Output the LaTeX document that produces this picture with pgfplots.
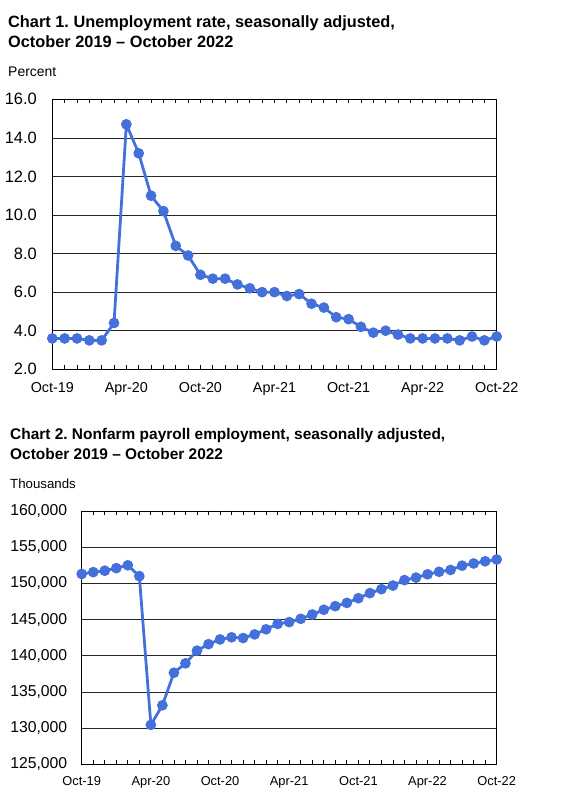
\documentclass[border=0pt]{standalone}
\usepackage{fontspec}
\setmainfont{Liberation Sans}
\usepackage{pgfplots}
\pgfplotsset{compat=1.18}
\usepackage{pgfplotstable}
\frenchspacing

\definecolor{blsblue}{RGB}{68,112,220}

% unemployment rate, Oct-19 .. Oct-22 (month index 0..36)
\pgfplotstableread{
m rate
0 3.6
1 3.6
2 3.6
3 3.5
4 3.5
5 4.4
6 14.7
7 13.2
8 11.0
9 10.2
10 8.4
11 7.9
12 6.9
13 6.7
14 6.7
15 6.4
16 6.2
17 6.0
18 6.0
19 5.8
20 5.9
21 5.4
22 5.2
23 4.7
24 4.6
25 4.2
26 3.9
27 4.0
28 3.8
29 3.6
30 3.6
31 3.6
32 3.6
33 3.5
34 3.7
35 3.5
36 3.7
}\unrate

% nonfarm payroll employment, thousands
\pgfplotstableread{
m emp
0 151300
1 151550
2 151750
3 152100
4 152500
5 151000
6 130450
7 133150
8 137650
9 138950
10 140700
11 141600
12 142250
13 142550
14 142450
15 142950
16 143650
17 144400
18 144650
19 145100
20 145700
21 146350
22 146850
23 147300
24 147950
25 148650
26 149200
27 149700
28 150450
29 150800
30 151250
31 151600
32 151850
33 152450
34 152750
35 153050
36 153300
}\payroll

\pgfplotsset{
  blsaxis/.style={
    scale only axis,
    anchor=south west,
    xmin=0, xmax=36,
    xtick={0,6,...,36},
    xticklabels={Oct-19,Apr-20,Oct-20,Apr-21,Oct-21,Apr-22,Oct-22},
    minor x tick num=5,
    major tick length=4bp,
    minor tick length=4bp,
    x tick style={black, line width=0.8pt},
    y tick style={draw=none},
    ymajorgrids,
    major grid style={black!85, line width=0.7pt},
    axis line style={black, line width=0.9pt},
    /pgf/number format/assume math mode=true,
    clip=false,
  },
  blsline/.style={
    blsblue, line width=2.8pt, mark=*, mark size=3.9pt,
    mark options={blsblue, solid},
  },
}

\begin{document}
\begin{tikzpicture}
\path[use as bounding box] (0bp,0bp) rectangle (569bp,810bp);

% ---- Chart 1 ----
\node[anchor=base west, inner sep=0pt, font=\bfseries\fontsize{16.4}{19}\selectfont]
  at (8bp,782.5bp) {Chart 1. Unemployment rate, seasonally adjusted,};
\node[anchor=base west, inner sep=0pt, font=\bfseries\fontsize{16.4}{19}\selectfont]
  at (8bp,762bp) {October 2019 -- October 2022};
\node[anchor=base west, inner sep=0pt, font=\fontsize{14}{16}\selectfont]
  at (8bp,733bp) {Percent};

\begin{axis}[blsaxis,
    at={(52.3bp,440.7bp)}, width=444.4bp, height=270bp,
    ymin=2, ymax=16, ytick={2,4,...,16},
    yticklabel style={font=\fontsize{16.5}{18}\selectfont, xshift=-12bp,
      /pgf/number format/.cd, fixed, fixed zerofill, precision=1},
    xticklabel style={font=\fontsize{14.4}{16}\selectfont, yshift=-10bp},
  ]
  \addplot[blsline] table[x=m, y=rate] {\unrate};
\end{axis}

% ---- Chart 2 ----
\node[anchor=base west, inner sep=0pt, font=\bfseries\fontsize{15.5}{18}\selectfont]
  at (10bp,370bp) {Chart 2. Nonfarm payroll employment, seasonally adjusted,};
\node[anchor=base west, inner sep=0pt, font=\bfseries\fontsize{15.5}{18}\selectfont]
  at (10bp,350.5bp) {October 2019 -- October 2022};
\node[anchor=base west, inner sep=0pt, font=\fontsize{13.3}{16}\selectfont]
  at (10bp,321bp) {Thousands};

\begin{axis}[blsaxis,
    at={(81.7bp,45.7bp)}, width=415bp, height=253.3bp,
    ymin=125000, ymax=160000, ytick={125000,130000,...,160000},
    scaled y ticks=false,
    yticklabel style={font=\fontsize{15.8}{18}\selectfont, xshift=-11bp,
      /pgf/number format/.cd, fixed, precision=0, 1000 sep={,}},
    xticklabel style={font=\fontsize{12.9}{15}\selectfont, yshift=-9bp},
  ]
  \addplot[blsline] table[x=m, y=emp] {\payroll};
\end{axis}
\end{tikzpicture}
\end{document}
